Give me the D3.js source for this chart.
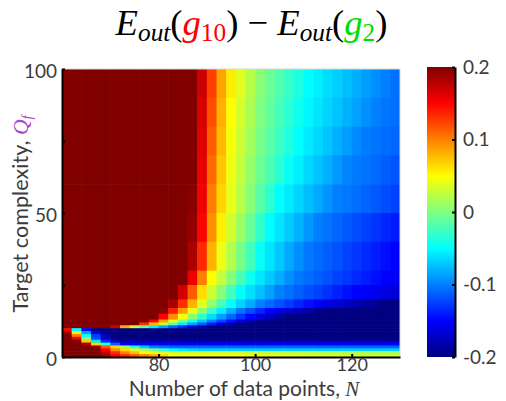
<!DOCTYPE html>
<html><head><meta charset="utf-8">
<script src="https://cdn.jsdelivr.net/npm/d3@7"></script>
<style>body{margin:0;background:#fff}svg{display:block}</style>
</head><body><svg id="c" width="506" height="401"></svg>
<script>
// Column centres (N), each column spans N-1..N+1
const nCols = [61,63,65,67,69,71,73,75,77,79,81,83,85,87,89,91,93,95,97,99,101,103,105,107,109,111,113,115,117,119,121,123,125,127,129];
// Row bands of Q_f (low..high)
const qBandLo = [91,81,71,61,51,41,31,26,21,18,16,14,13,12,11,10,9,8,7,6,5,4,3,2,1];
const qBandHi = [100,90,80,70,60,50,40,30,25,20,17,15,13,12,11,10,9,8,7,6,5,4,3,2,1];
// Eout(g10)-Eout(g2) values, one array per Q band
const zQ91_100 = [.2,.2,.2,.2,.2,.2,.2,.2,.2,.2,.2,.2,.2,.2,.17,.125,.086,.057,.038,.021,.004,-.008,-.018,-.029,-.039,-.05,-.056,-.063,-.069,-.075,-.081,-.088,-.094,-.1,-.106];
const zQ81_90  = [.2,.2,.2,.2,.2,.2,.2,.2,.2,.2,.2,.2,.2,.2,.166,.12,.081,.05,.033,.017,0,-.011,-.022,-.033,-.044,-.053,-.06,-.067,-.073,-.08,-.087,-.093,-.1,-.104,-.107];
const zQ71_80  = [.2,.2,.2,.2,.2,.2,.2,.2,.2,.2,.2,.2,.2,.2,.163,.113,.077,.047,.03,.013,-.003,-.015,-.026,-.038,-.05,-.058,-.065,-.073,-.081,-.088,-.096,-.102,-.105,-.108,-.11];
const zQ61_70  = [.2,.2,.2,.2,.2,.2,.2,.2,.2,.2,.2,.2,.2,.2,.16,.108,.072,.044,.026,.009,-.007,-.02,-.033,-.047,-.056,-.065,-.073,-.081,-.09,-.098,-.102,-.105,-.109,-.113,-.117];
const zQ51_60  = [.2,.2,.2,.2,.2,.2,.2,.2,.2,.2,.2,.2,.2,.196,.156,.1,.067,.041,.022,.003,-.015,-.032,-.05,-.058,-.067,-.075,-.083,-.092,-.1,-.103,-.107,-.111,-.115,-.12,-.125];
const zQ41_50  = [.2,.2,.2,.2,.2,.2,.2,.2,.2,.2,.2,.2,.2,.192,.15,.093,.056,.032,.011,-.01,-.03,-.05,-.06,-.07,-.08,-.09,-.1,-.105,-.11,-.115,-.12,-.125,-.13,-.135,-.14];
const zQ31_40  = [.2,.2,.2,.2,.2,.2,.2,.2,.2,.2,.2,.2,.2,.183,.134,.08,.043,.02,-.002,-.024,-.047,-.06,-.071,-.083,-.094,-.103,-.108,-.113,-.118,-.124,-.129,-.134,-.139,-.145,-.15];
const zQ26_30  = [.2,.2,.2,.2,.2,.2,.2,.2,.2,.2,.2,.2,.2,.157,.1,.05,.026,.002,-.021,-.044,-.059,-.071,-.082,-.094,-.103,-.108,-.113,-.118,-.124,-.129,-.134,-.139,-.145,-.15,-.154];
const zQ21_25  = [.2,.2,.2,.2,.2,.2,.2,.2,.2,.2,.2,.2,.168,.114,.063,.03,.003,-.023,-.048,-.062,-.074,-.087,-.1,-.106,-.113,-.119,-.125,-.131,-.138,-.144,-.15,-.153,-.157,-.162,-.167];
const zQ18_20  = [.2,.2,.2,.2,.2,.2,.2,.2,.2,.2,.2,.183,.132,.08,.038,.008,-.021,-.05,-.067,-.083,-.1,-.109,-.118,-.127,-.136,-.145,-.153,-.16,-.167,-.173,-.18,-.187,-.193,-.2,-.2];
const zQ16_17  = [.2,.2,.2,.2,.2,.2,.2,.2,.2,.2,.194,.138,.088,.041,.005,-.027,-.056,-.081,-.104,-.119,-.135,-.15,-.159,-.168,-.177,-.186,-.195,-.2,-.2,-.2,-.2,-.2,-.2,-.2,-.2];
const zQ14_15  = [.2,.2,.2,.2,.2,.2,.2,.2,.2,.2,.15,.095,.046,.006,-.031,-.063,-.088,-.11,-.13,-.15,-.163,-.175,-.188,-.2,-.2,-.2,-.2,-.2,-.2,-.2,-.2,-.2,-.2,-.2,-.2];
const zQ13     = [.2,.2,.2,.2,.2,.2,.2,.2,.2,.15,.088,.04,0,-.04,-.071,-.1,-.122,-.144,-.162,-.177,-.192,-.2,-.2,-.2,-.2,-.2,-.2,-.2,-.2,-.2,-.2,-.2,-.2,-.2,-.2];
const zQ12     = [.2,.2,.2,.2,.2,.2,.2,.2,.133,.075,.03,-.013,-.057,-.086,-.113,-.138,-.16,-.18,-.2,-.2,-.2,-.2,-.2,-.2,-.2,-.2,-.2,-.2,-.2,-.2,-.2,-.2,-.2,-.2,-.2];
const zQ11     = [.2,.2,.2,.2,.2,.171,.083,.03,-.013,-.057,-.086,-.113,-.138,-.16,-.18,-.2,-.2,-.2,-.2,-.2,-.2,-.2,-.2,-.2,-.2,-.2,-.2,-.2,-.2,-.2,-.2,-.2,-.2,-.2,-.2];
const zQ10     = [.15,-.05,-.15,-.2,-.2,-.2,-.2,-.2,-.2,-.2,-.2,-.2,-.2,-.2,-.2,-.2,-.2,-.2,-.2,-.2,-.2,-.2,-.2,-.2,-.2,-.2,-.2,-.2,-.2,-.2,-.2,-.2,-.2,-.2,-.2];
const zQ9      = [.186,.036,-.085,-.163,-.2,-.2,-.2,-.2,-.2,-.2,-.2,-.2,-.2,-.2,-.2,-.2,-.2,-.2,-.2,-.2,-.2,-.2,-.2,-.2,-.2,-.2,-.2,-.2,-.2,-.2,-.2,-.2,-.2,-.2,-.2];
const zQ8      = [.2,.1,-.05,-.128,-.177,-.2,-.2,-.2,-.2,-.2,-.2,-.2,-.2,-.2,-.2,-.2,-.2,-.2,-.2,-.2,-.2,-.2,-.2,-.2,-.2,-.2,-.2,-.2,-.2,-.2,-.2,-.2,-.2,-.2,-.2];
const zQ7      = [.2,.15,0,-.117,-.17,-.2,-.2,-.2,-.2,-.2,-.2,-.2,-.2,-.2,-.2,-.2,-.2,-.2,-.2,-.2,-.2,-.2,-.2,-.2,-.2,-.2,-.2,-.2,-.2,-.2,-.2,-.2,-.2,-.2,-.2];
const zQ6      = [.2,.2,.071,-.058,-.133,-.168,-.185,-.185,-.185,-.185,-.185,-.185,-.185,-.185,-.185,-.185,-.185,-.185,-.185,-.185,-.185,-.185,-.185,-.185,-.185,-.185,-.185,-.185,-.185,-.185,-.185,-.185,-.185,-.185,-.185];
const zQ5      = [.2,.2,.181,.069,-.036,-.113,-.15,-.15,-.15,-.15,-.15,-.15,-.15,-.15,-.15,-.15,-.15,-.15,-.15,-.15,-.15,-.15,-.15,-.15,-.15,-.15,-.15,-.15,-.15,-.15,-.15,-.15,-.15,-.15,-.15];
const zQ4      = [.2,.2,.2,.192,.117,.066,.014,-.038,-.071,-.1,-.105,-.11,-.11,-.11,-.11,-.11,-.11,-.11,-.11,-.11,-.11,-.11,-.11,-.11,-.11,-.11,-.11,-.11,-.11,-.11,-.11,-.11,-.11,-.11,-.11];
const zQ3      = [.2,.2,.2,.2,.15,.097,.066,.039,.017,-.006,-.028,-.05,-.058,-.064,-.07,-.07,-.07,-.07,-.07,-.07,-.07,-.07,-.07,-.07,-.07,-.07,-.07,-.07,-.07,-.07,-.07,-.07,-.07,-.07,-.07];
const zQ2      = [.2,.2,.2,.2,.175,.133,.1,.075,.05,.045,.04,.035,.03,.03,.03,.03,.03,.03,.03,.03,.028,.027,.025,.024,.023,.022,.021,.02,.019,.018,.018,.017,.016,.016,.015];
const zQ1      = [.2,.2,.2,.2,.19,.15,.133,.117,.1,.083,.067,.05,.049,.049,.048,.047,.046,.046,.045,.043,.042,.04,.039,.037,.036,.035,.034,.033,.032,.031,.029,.028,.027,.026,.025];
const zRows = [zQ91_100,zQ81_90,zQ71_80,zQ61_70,zQ51_60,zQ41_50,zQ31_40,zQ26_30,zQ21_25,zQ18_20,zQ16_17,zQ14_15,zQ13,zQ12,zQ11,zQ10,zQ9,zQ8,zQ7,zQ6,zQ5,zQ4,zQ3,zQ2,zQ1];

const xTicks = [80,100,120];
const yTicks = [0,25,50,75,100];
const yTickLabels = [0,50,100];
const cbTicks = [-0.2,-0.1,0,0.1,0.2];
const cbTickLabels = ["-0.2","-0.1","0","0.1","0.2"];

const svg = d3.select("#c");
const L = 62, R = 400, T = 69, B = 357;
const x = d3.scaleLinear().domain([60,130]).range([L,R]);
const y = d3.scaleLinear().domain([0,100]).range([B,T]);
const jetDom = [-0.2,-0.15,-0.05,0.05,0.15,0.2];
const jetCol = ["#000080","#0000ff","#00ffff","#ffff00","#ff0000","#800000"];
const jet = d3.scaleLinear().domain(jetDom).range(jetCol).clamp(true);

const textCol = "#3c3c3c";
const sans = "Lato, 'Open Sans', sans-serif";
const serif = "'Liberation Serif', 'DejaVu Serif', serif";

svg.append("defs").append("clipPath").attr("id","pc")
  .append("rect").attr("x",L).attr("y",T).attr("width",R-L).attr("height",B-T);

const cells = [];
zRows.forEach((row,ri)=>row.forEach((v,ci)=>cells.push({n:nCols[ci],lo:qBandLo[ri],hi:qBandHi[ri],v})));
svg.append("g").attr("clip-path","url(#pc)")
  .selectAll("rect").data(cells).join("rect")
  .attr("x",d=>x(d.n-1)).attr("width",d=>x(d.n+1)-x(d.n-1)+0.6)
  .attr("y",d=>y(d.hi)).attr("height",d=>y(d.lo-1)-y(d.hi)+0.6)
  .attr("fill",d=>jet(d.v));

svg.append("path").attr("d",`M${L},${T}H${R}V${B}`).attr("fill","none").attr("stroke","#d8d8d8").attr("stroke-width",1);

// axes
const yAxis = d3.axisLeft(y).tickValues(yTicks).tickSize(-3).tickSizeOuter(0).tickPadding(5)
  .tickFormat(d=>yTickLabels.includes(d)?String(d):"");
const gy = svg.append("g").attr("transform",`translate(${L},0)`).call(yAxis);
const xAxis = d3.axisBottom(x).tickValues(xTicks).tickSize(-3).tickSizeOuter(0).tickPadding(1);
const gx = svg.append("g").attr("transform",`translate(0,${B})`).call(xAxis);
[gx,gy].forEach(g=>{
  g.select(".domain").attr("stroke","#000").attr("stroke-width",2);
  g.selectAll(".tick line").attr("stroke","#000").attr("stroke-width",2);
  g.selectAll(".tick text").attr("fill",textCol).style("font-family",sans).style("font-size","19px");
});
gx.selectAll(".tick text").style("font-size","18px");
gy.selectAll(".tick text").attr("transform","translate(0,2)");

// colorbar
const cbL = 427, cbR = 455, cbT = 67, cbB = 357;
const cy = d3.scaleLinear().domain([-0.2,0.2]).range([cbB,cbT]);
const grad = svg.select("defs").append("linearGradient").attr("id","jetg")
  .attr("x1",0).attr("y1",1).attr("x2",0).attr("y2",0);
grad.selectAll("stop").data(jetDom).join("stop")
  .attr("offset",d=>(d+0.2)/0.4).attr("stop-color",d=>jet(d));
svg.append("rect").attr("x",cbL).attr("y",cbT).attr("width",cbR-cbL).attr("height",cbB-cbT).attr("fill","url(#jetg)");
const cAxis = d3.axisRight(cy).tickValues(cbTicks).tickSize(-3).tickSizeOuter(0).tickPadding(8)
  .tickFormat((d,i)=>cbTickLabels[i]);
const gc = svg.append("g").attr("transform",`translate(${cbR},0)`).call(cAxis);
gc.select(".domain").attr("stroke","#000").attr("stroke-width",2);
gc.selectAll(".tick line").attr("stroke","#000").attr("stroke-width",2);
gc.selectAll(".tick text").attr("fill",textCol).style("font-family",sans).style("font-size","19px");

// x label, fitted to the reference width
const xl = svg.append("text").attr("x",244).attr("y",396).attr("text-anchor","middle")
  .attr("fill",textCol).style("font-family",sans).style("font-size","21px");
xl.append("tspan").text("Number of data points, ");
xl.append("tspan").text("N").style("font-family",serif).style("font-style","italic");
let fs = Math.min(21, 21*264/xl.node().getBBox().width);
xl.style("font-size",fs+"px");

// y label
const yl = svg.append("text").attr("transform","translate(28,214) rotate(-90)").attr("text-anchor","middle")
  .attr("fill",textCol).style("font-family",sans).style("font-size",(fs*1.03)+"px");
yl.append("tspan").text("Target complexity, ");
yl.append("tspan").text("Q").attr("fill","#b040d0").style("font-family",serif).style("font-style","italic");
yl.append("tspan").text("f").attr("fill","#b040d0").style("font-family",serif).style("font-style","italic").style("font-size",(fs*0.68)+"px").attr("dy",4);

// title, fitted to the reference width
const tt = svg.append("text").attr("x",251.5).attr("y",35).attr("text-anchor","middle").attr("fill","#000").style("font-family",serif);
function buildTitle(F){
  tt.selectAll("*").remove(); tt.style("font-size",F+"px");
  const sub = F*0.69, d = F*0.17;
  function part(t,o){const s=tt.append("tspan").text(t);
    if(o.it) s.style("font-style","italic");
    if(o.sz) s.style("font-size",o.sz+"px");
    if(o.dy) s.attr("dy",o.dy);
    if(o.c) s.attr("fill",o.c);}
  part("E",{it:1}); part("out",{it:1,sz:sub,dy:d}); part("(",{dy:-d});
  part("g",{it:1,c:"#ff0000"}); part("10",{sz:sub,dy:d,c:"#ff0000"}); part(")",{dy:-d});
  part(" \u2212 ",{}); part("E",{it:1}); part("out",{it:1,sz:sub,dy:d}); part("(",{dy:-d});
  part("g",{it:1,c:"#00dd00"}); part("2",{sz:sub,dy:d,c:"#00dd00"}); part(")",{dy:-d});
}
buildTitle(32);
buildTitle(32*273/tt.node().getBBox().width);
</script></body></html>
